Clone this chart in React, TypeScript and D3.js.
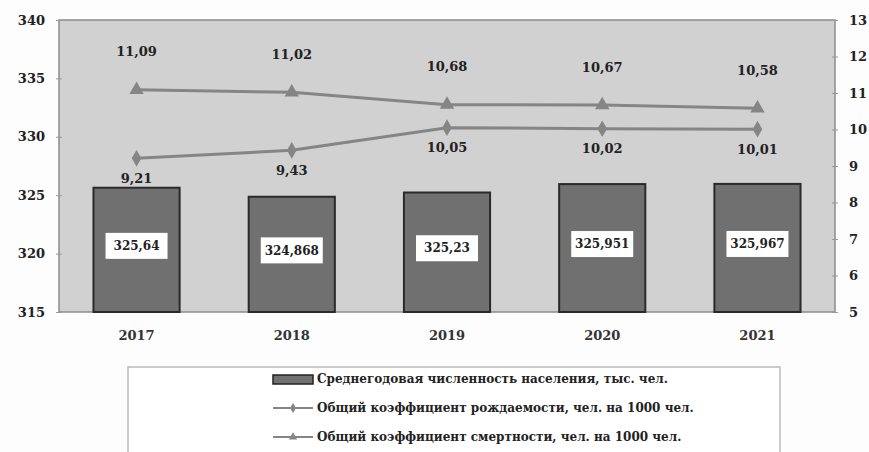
import React, { useEffect, useRef } from 'react'
import * as d3 from 'd3'

const years = ['2017', '2018', '2019', '2020', '2021']
const population = [325.64, 324.868, 325.23, 325.951, 325.967]
const populationLabels = ['325,64', '324,868', '325,23', '325,951', '325,967']
const birthRate = [9.21, 9.43, 10.05, 10.02, 10.01]
const deathRate = [11.09, 11.02, 10.68, 10.67, 10.58]
const leftTicks = [315, 320, 325, 330, 335, 340]
const rightTicks = [5, 6, 7, 8, 9, 10, 11, 12, 13]
const legendLabels = [
  'Среднегодовая численность населения, тыс. чел.',
  'Общий коэффициент рождаемости, чел. на 1000 чел.',
  'Общий коэффициент смертности, чел. на 1000 чел.',
]

const fmt = (v: number) => v.toFixed(2).replace('.', ',')

export default function App() {
  const svgRef = useRef<SVGSVGElement>(null)

  useEffect(() => {
    if (!svgRef.current) return
    const width = 869
    const height = 452
    const left = 59, right = 835, top = 20, bottom = 312
    const font = '"DejaVu Serif", "Liberation Serif", serif'

    const svg = d3.select(svgRef.current)
    svg.selectAll('*').remove()
    svg.attr('width', width).attr('height', height).style('font-family', font)

    svg.append('rect').attr('width', width).attr('height', height).attr('fill', '#fdfdfd')

    const x = d3.scaleBand().domain(years).range([left, right]).paddingInner(0.445).paddingOuter(0.222)
    const yL = d3.scaleLinear().domain([315, 340]).range([bottom, top])
    const yR = d3.scaleLinear().domain([5, 13]).range([bottom, top])

    // plot area
    svg.append('rect')
      .attr('x', left).attr('y', top)
      .attr('width', right - left).attr('height', bottom - top)
      .attr('fill', '#d1d1d1').attr('stroke', '#8c8c8c').attr('stroke-width', 1.5)

    // left axis
    const gl = svg.append('g').attr('transform', `translate(${left},0)`)
      .call(d3.axisLeft(yL).tickValues(leftTicks).tickSize(6).tickSizeOuter(0))
    gl.attr('font-family', null)
    gl.select('.domain').remove()
    gl.selectAll('line').attr('stroke', '#999').attr('transform', 'translate(3,0)')
    gl.selectAll('text').attr('x', -14).attr('font-size', 13).attr('font-weight', 'bold')
      .attr('fill', '#222')

    // right axis
    const gr = svg.append('g').attr('transform', `translate(${right},0)`)
      .call(d3.axisRight(yR).tickValues(rightTicks).tickSize(6).tickSizeOuter(0))
    gr.attr('font-family', null)
    gr.select('.domain').remove()
    gr.selectAll('line').attr('stroke', '#999').attr('transform', 'translate(-3,0)')
    gr.selectAll('text').attr('x', 14).attr('font-size', 13).attr('font-weight', 'bold')
      .attr('fill', '#222')

    // bars
    svg.append('g').selectAll('rect').data(population).join('rect')
      .attr('x', (_, i) => x(years[i])!)
      .attr('y', d => yL(d))
      .attr('width', x.bandwidth())
      .attr('height', d => bottom - yL(d))
      .attr('fill', '#707070').attr('stroke', '#2a2a2a').attr('stroke-width', 2)

    // bar labels
    const bl = svg.append('g').selectAll('g').data(population).join('g')
      .attr('transform', (d, i) => `translate(${x(years[i])! + x.bandwidth() / 2},${(yL(d) + bottom) / 2 - 4})`)
    bl.append('rect').attr('x', -31).attr('y', -13).attr('width', 62).attr('height', 26).attr('fill', '#fff')
    bl.append('text').attr('text-anchor', 'middle').attr('dy', '0.35em')
      .attr('font-size', 12).attr('font-weight', 'bold').attr('fill', '#222')
      .text((_, i) => populationLabels[i])

    // x labels
    svg.append('g').selectAll('text').data(years).join('text')
      .attr('x', d => x(d)! + x.bandwidth() / 2).attr('y', 335)
      .attr('text-anchor', 'middle').attr('dy', '0.35em')
      .attr('font-size', 13).attr('font-weight', 'bold').attr('fill', '#333')
      .text(d => d)

    const cx = (i: number) => x(years[i])! + x.bandwidth() / 2
    const line = d3.line<number>().x((_, i) => cx(i)).y(d => yR(d))
    const lineColor = '#858585'

    svg.append('path').datum(deathRate).attr('d', line).attr('fill', 'none')
      .attr('stroke', lineColor).attr('stroke-width', 3)
    svg.append('path').datum(birthRate).attr('d', line).attr('fill', 'none')
      .attr('stroke', lineColor).attr('stroke-width', 3)

    const tri = d3.symbol().type(d3.symbolTriangle).size(90)
    const dia = d3.symbol().type(d3.symbolDiamond).size(80)
    svg.append('g').selectAll('path').data(deathRate).join('path')
      .attr('d', tri).attr('fill', lineColor)
      .attr('transform', (d, i) => `translate(${cx(i)},${yR(d)})`)
    svg.append('g').selectAll('path').data(birthRate).join('path')
      .attr('d', dia).attr('fill', lineColor)
      .attr('transform', (d, i) => `translate(${cx(i)},${yR(d)})`)

    svg.append('g').selectAll('text').data(deathRate).join('text')
      .attr('x', (_, i) => cx(i)).attr('y', d => yR(d) - 38)
      .attr('text-anchor', 'middle').attr('dy', '0.35em')
      .attr('font-size', 13).attr('font-weight', 'bold').attr('fill', '#222')
      .text(d => fmt(d))
    svg.append('g').selectAll('text').data(birthRate).join('text')
      .attr('x', (_, i) => cx(i)).attr('y', d => yR(d) + 20)
      .attr('text-anchor', 'middle').attr('dy', '0.35em')
      .attr('font-size', 13).attr('font-weight', 'bold').attr('fill', '#222')
      .text(d => fmt(d))

    // legend
    const lg = svg.append('g')
    lg.append('rect').attr('x', 128).attr('y', 367).attr('width', 652).attr('height', 90)
      .attr('fill', '#fff').attr('stroke', '#bbb').attr('stroke-width', 1.5)
    const rowsY = [379, 408, 437]
    lg.append('rect').attr('x', 273).attr('y', 375).attr('width', 40).attr('height', 9)
      .attr('fill', '#707070').attr('stroke', '#222').attr('stroke-width', 1.5)
    ;[1, 2].forEach(k => {
      lg.append('line').attr('x1', 273).attr('x2', 313).attr('y1', rowsY[k]).attr('y2', rowsY[k])
        .attr('stroke', lineColor).attr('stroke-width', 2)
      lg.append('path').attr('d', (k === 1 ? d3.symbol().type(d3.symbolDiamond).size(30) : d3.symbol().type(d3.symbolTriangle).size(30))())
        .attr('fill', lineColor).attr('transform', `translate(293,${rowsY[k]})`)
    })
    lg.selectAll('text.lt').data(legendLabels).join('text').attr('class', 'lt')
      .attr('x', 317).attr('y', (_, i) => rowsY[i]).attr('dy', '0.35em')
      .attr('font-size', 12).attr('font-weight', 'bold').attr('fill', '#222')
      .text(d => d)
  }, [])

  return (
    <div style={{ position: 'absolute', left: 0, top: 0 }}>
      <svg ref={svgRef}></svg>
    </div>
  )
}
